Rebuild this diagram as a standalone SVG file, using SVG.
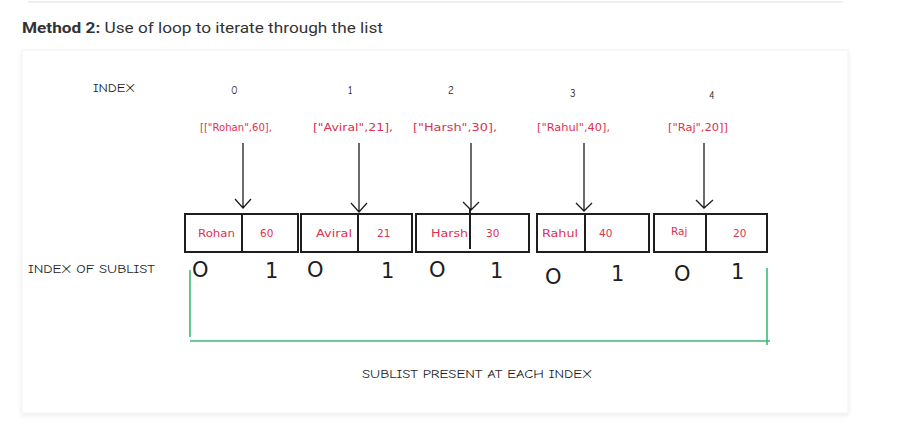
<svg xmlns="http://www.w3.org/2000/svg" width="898" height="446" viewBox="0 0 898 446">
<defs>
<style>
.hand{font-family:"Comic Neue","DejaVu Sans","Liberation Sans",sans-serif;fill:#1e1e1e;font-size:11px}
.red{font-family:"DejaVu Sans","Liberation Sans",sans-serif;fill:#e0314f;font-size:10.5px}
.big{font-family:"DejaVu Sans","Liberation Sans",sans-serif;fill:#1e1e1e;font-size:21px}
.box{fill:none;stroke:#1e1e1e;stroke-width:2}
.arr{fill:none;stroke:#1e1e1e;stroke-width:1.3}
.grn{fill:none;stroke:#3cb878;stroke-width:1.6}
</style>
<filter id="sh" x="-5%" y="-5%" width="110%" height="115%">
<feDropShadow dx="0" dy="2" stdDeviation="2" flood-color="#000" flood-opacity="0.08"/>
</filter>
</defs>
<rect width="898" height="446" fill="#ffffff"/>
<line x1="28" y1="2" x2="843" y2="2" stroke="#f0f0f0" stroke-width="2"/>
<text x="22" y="33" font-family="Roboto,'Noto Sans',sans-serif" font-size="15" fill="#333" textLength="361" lengthAdjust="spacingAndGlyphs"><tspan font-weight="bold">Method 2:</tspan> Use of loop to iterate through the list</text>
<rect x="22" y="50" width="826" height="363" fill="#ffffff" stroke="#f2f2f2" filter="url(#sh)"/>

<g id="labels">
<text class="hand" x="93" y="92" textLength="42" lengthAdjust="spacingAndGlyphs">INDEX</text>
<text class="hand" x="231" y="94">0</text>
<text class="hand" x="348" y="94">1</text>
<text class="hand" x="448" y="94">2</text>
<text class="hand" x="570" y="97">3</text>
<text class="hand" x="709" y="99">4</text>
<text class="hand" x="28" y="273" textLength="127" lengthAdjust="spacingAndGlyphs">INDEX OF SUBLIST</text>
<text class="hand" x="362" y="378" textLength="230" lengthAdjust="spacingAndGlyphs">SUBLIST PRESENT AT EACH INDEX</text>
</g>

<g id="sublist0">
<text class="red" x="200" y="131" textLength="72" lengthAdjust="spacingAndGlyphs">[["Rohan",60],</text>
<rect class="box" x="185" y="214" width="113" height="38"/>
<line class="box" x1="242" y1="214" x2="242" y2="252"/>
<text class="red" x="198" y="237" textLength="37" lengthAdjust="spacingAndGlyphs">Rohan</text>
<text class="red" x="260" y="237">60</text>
<text class="big" x="192" y="277">O</text>
<text class="big" x="265" y="278">1</text>
</g>
<g id="sublist1">
<text class="red" x="313" y="131" textLength="80" lengthAdjust="spacingAndGlyphs">["Aviral",21],</text>
<rect class="box" x="301" y="214" width="111" height="38"/>
<line class="box" x1="358" y1="214" x2="358" y2="252"/>
<text class="red" x="316" y="237" textLength="36" lengthAdjust="spacingAndGlyphs">Aviral</text>
<text class="red" x="377" y="237">21</text>
<text class="big" x="307" y="277">O</text>
<text class="big" x="381" y="278">1</text>
</g>
<g id="sublist2">
<text class="red" x="413" y="131" textLength="84" lengthAdjust="spacingAndGlyphs">["Harsh",30],</text>
<rect class="box" x="416" y="214" width="113" height="38"/>
<line class="box" x1="470" y1="208" x2="470" y2="249"/>
<text class="red" x="431" y="237" textLength="37" lengthAdjust="spacingAndGlyphs">Harsh</text>
<text class="red" x="486" y="237">30</text>
<text class="big" x="429" y="277">O</text>
<text class="big" x="490" y="278">1</text>
</g>
<g id="sublist3">
<text class="red" x="537" y="131" textLength="73" lengthAdjust="spacingAndGlyphs">["Rahul",40],</text>
<rect class="box" x="537" y="214" width="112" height="38"/>
<line class="box" x1="585" y1="214" x2="585" y2="252"/>
<text class="red" x="542" y="237" textLength="36" lengthAdjust="spacingAndGlyphs">Rahul</text>
<text class="red" x="599" y="237">40</text>
<text class="big" x="545" y="284">O</text>
<text class="big" x="611" y="281">1</text>
</g>
<g id="sublist4">
<text class="red" x="668" y="131" textLength="60" lengthAdjust="spacingAndGlyphs">["Raj",20]]</text>
<rect class="box" x="654" y="214" width="113" height="38"/>
<line class="box" x1="706" y1="214" x2="706" y2="252"/>
<text class="red" x="671" y="235">Raj</text>
<text class="red" x="733" y="237">20</text>
<text class="big" x="674" y="281">O</text>
<text class="big" x="731" y="279">1</text>
</g>

<g id="connectors">
<path class="arr" d="M243,143 V208 M235,199 L243,208 L251,199"/>
<path class="arr" d="M359,143 V212 M351,203 L359,212 L367,203"/>
<path class="arr" d="M471,143 V210 M463,202 L471,210 L479,202"/>
<path class="arr" d="M584,143 V211 M576,203 L584,211 L592,203"/>
<path class="arr" d="M704,143 V208 M696,200 L704,208 L713,200"/>
<path class="grn" d="M190,270 V337 M190,341 H770 M767,268 V345"/>
</g>
</svg>
